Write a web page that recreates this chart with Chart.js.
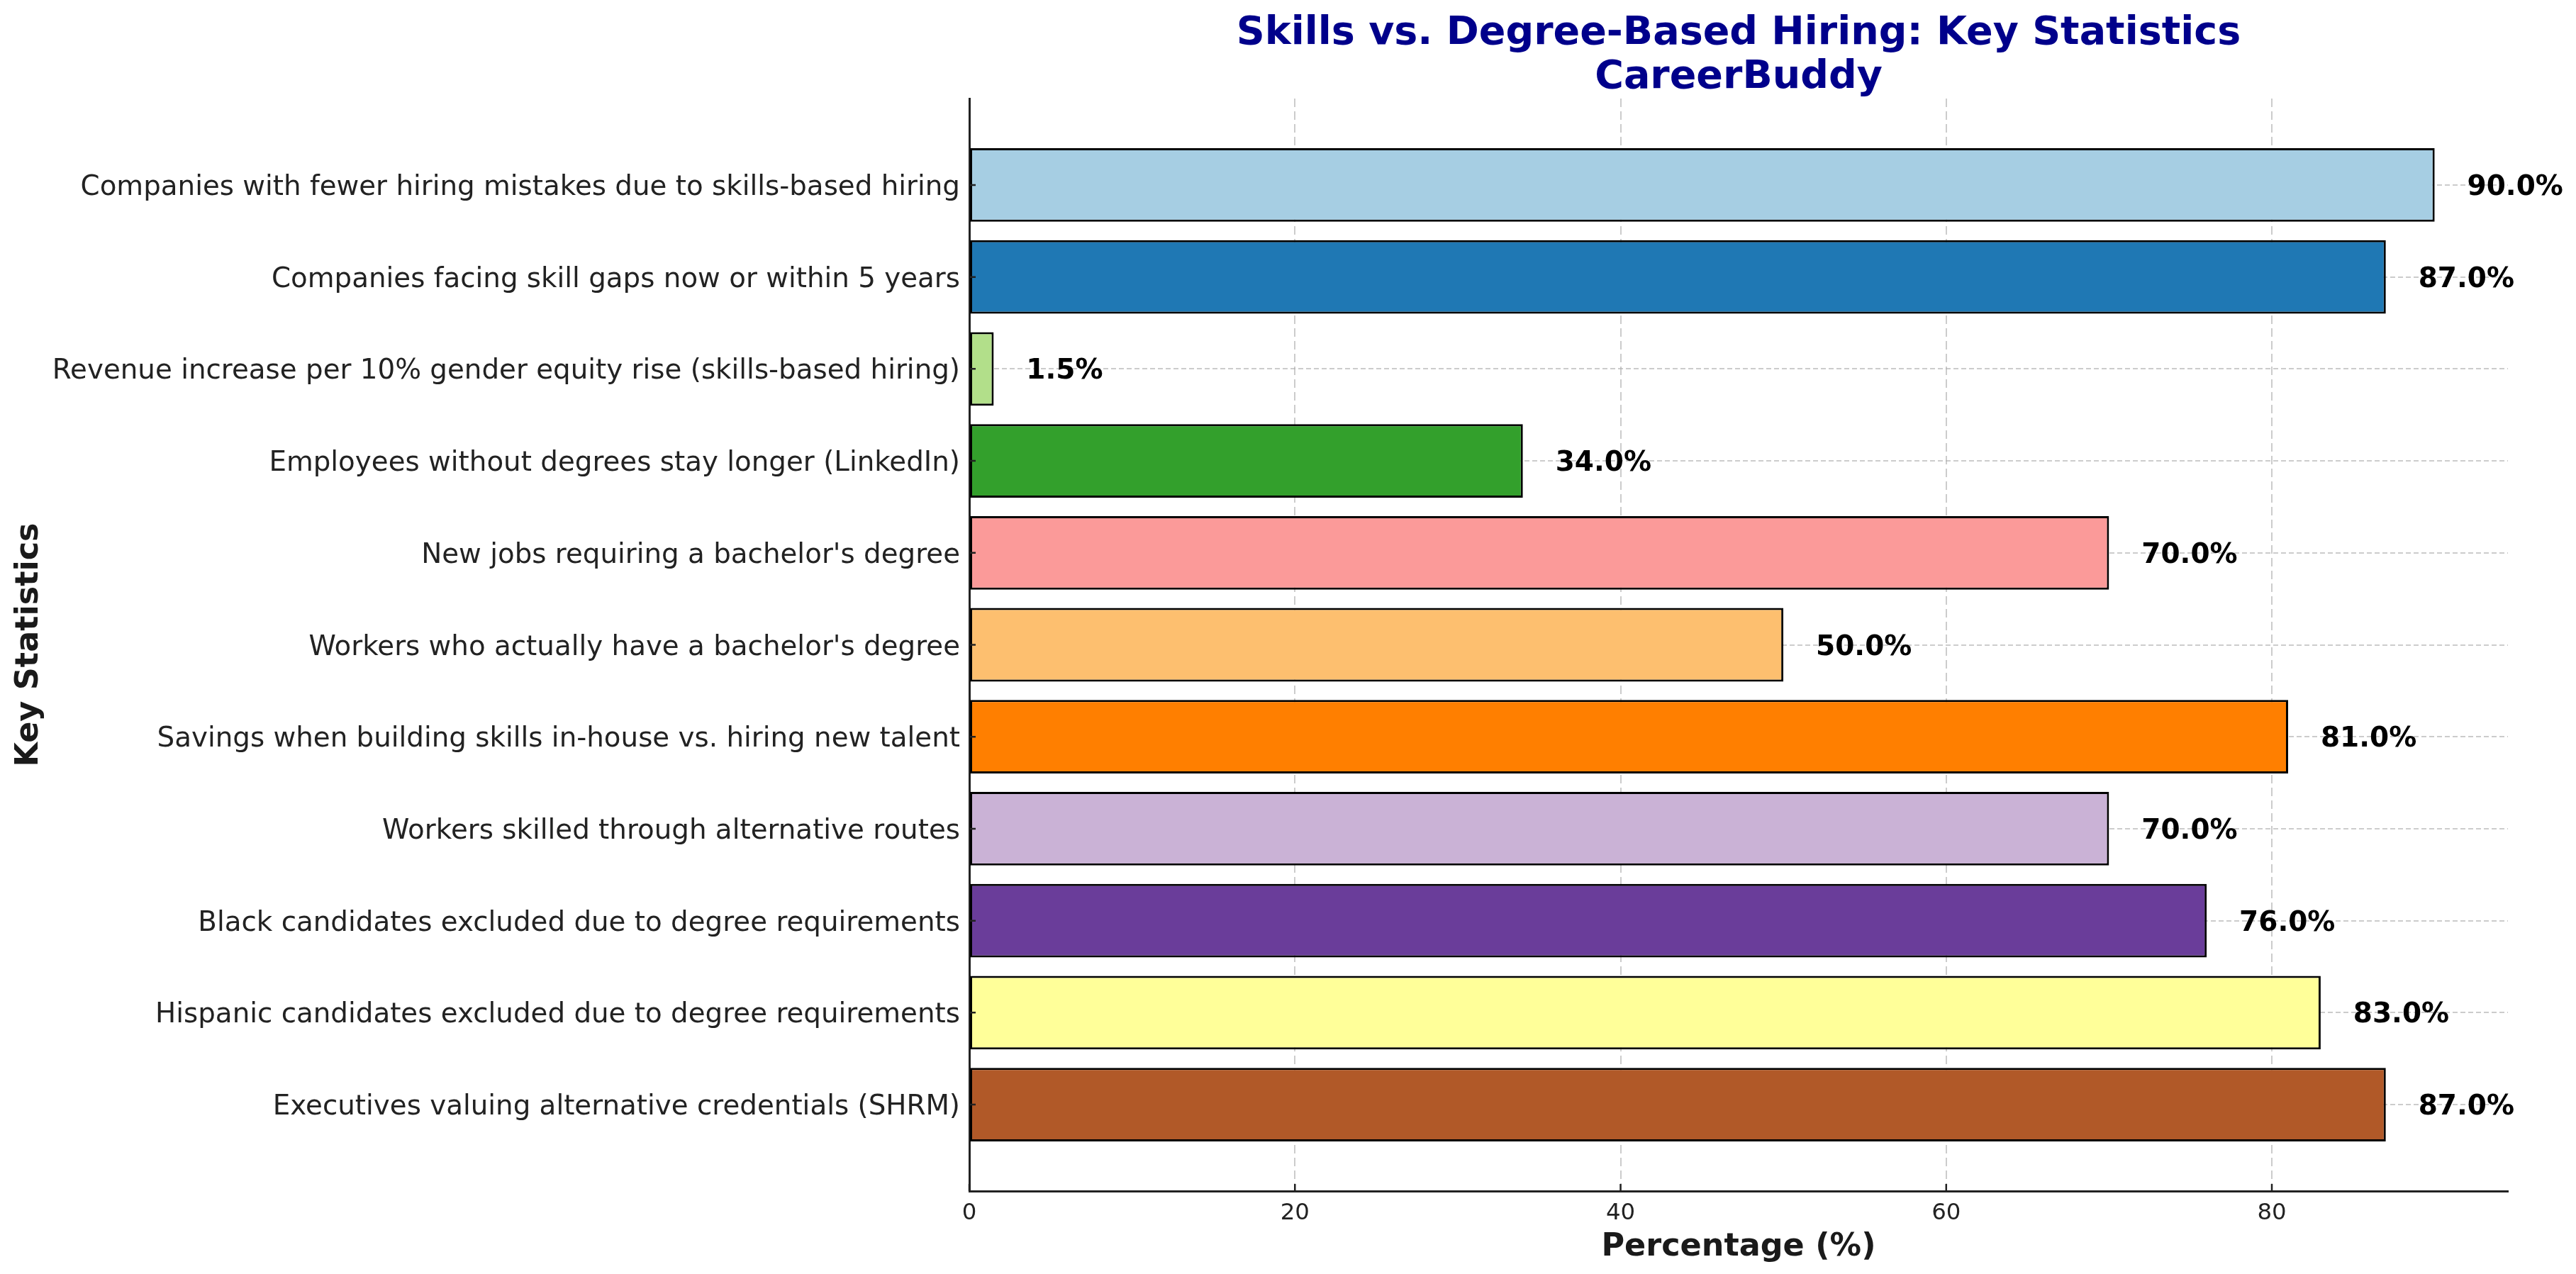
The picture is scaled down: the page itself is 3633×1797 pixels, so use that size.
<!DOCTYPE html>
<html>
<head>
<meta charset="utf-8">
<script src="https://cdn.jsdelivr.net/npm/chart.js@4.4.1/dist/chart.umd.min.js"></script>
<style>
  html, body { margin: 0; padding: 0; background: #fff; }
  canvas { display: block; }
</style>
</head>
<body>
<canvas id="skills_chart" width="3633" height="1797" style="width:3633px;height:1797px"></canvas>
<script>
// data, listed top to bottom as drawn
const STAT_LABELS = [
  "Companies with fewer hiring mistakes due to skills-based hiring",
  "Companies facing skill gaps now or within 5 years",
  "Revenue increase per 10% gender equity rise (skills-based hiring)",
  "Employees without degrees stay longer (LinkedIn)",
  "New jobs requiring a bachelor's degree",
  "Workers who actually have a bachelor's degree",
  "Savings when building skills in-house vs. hiring new talent",
  "Workers skilled through alternative routes",
  "Black candidates excluded due to degree requirements",
  "Hispanic candidates excluded due to degree requirements",
  "Executives valuing alternative credentials (SHRM)",
];
const STAT_VALUES = [90, 87, 1.5, 34, 70, 50, 81, 70, 76, 83, 87];
const BAR_COLORS = [
  "#a6cee3", "#1f78b4", "#b2df8a", "#33a02c", "#fb9a99", "#fdbf6f",
  "#ff7f00", "#cab2d6", "#6a3d9a", "#ffff99", "#b15928",
];
const X_TICKS = [0, 20, 40, 60, 80];
const TITLE_LINES = ["Skills vs. Degree-Based Hiring: Key Statistics", "CareerBuddy"];

const FONT = '"DejaVu Sans", sans-serif';
const GRID_COLOR = "rgba(176,176,176,0.65)";
const SPINE_COLOR = "#222";

// title over the plot area, value labels, inward tick marks
const annotatePlugin = {
  id: "annotate",
  afterDraw(chart) {
    const { ctx, chartArea, scales: { x, y } } = chart;
    ctx.save();

    ctx.fillStyle = "#00008B";
    ctx.font = `bold 55.5px ${FONT}`;
    ctx.textAlign = "center";
    ctx.textBaseline = "alphabetic";
    const cx = (chartArea.left + chartArea.right) / 2;
    TITLE_LINES.forEach((t, i) => ctx.fillText(t, cx, 62 + i * 62));

    ctx.fillStyle = "#000";
    ctx.font = `bold 39px ${FONT}`;
    ctx.textAlign = "left";
    ctx.textBaseline = "middle";
    STAT_VALUES.forEach((v, i) => {
      ctx.fillText(`${v.toFixed(1)}%`, x.getPixelForValue(v + 2), y.getPixelForValue(i) + 4);
    });

    ctx.strokeStyle = SPINE_COLOR;
    ctx.lineWidth = 2.5;
    ctx.beginPath();
    X_TICKS.forEach((t) => {
      const px = x.getPixelForValue(t);
      ctx.moveTo(px, chartArea.bottom);
      ctx.lineTo(px, chartArea.bottom - 10);
    });
    STAT_VALUES.forEach((_, i) => {
      const py = y.getPixelForValue(i);
      ctx.moveTo(chartArea.left, py);
      ctx.lineTo(chartArea.left + 9, py);
    });
    ctx.stroke();
    ctx.restore();
  },
};

new Chart(document.getElementById("skills_chart"), {
  type: "bar",
  data: {
    datasets: [{
      data: STAT_VALUES.map((v, i) => ({ x: v, y: i })),
      backgroundColor: BAR_COLORS,
      borderColor: "#000",
      borderWidth: 3,
      borderSkipped: false,
      categoryPercentage: 1,
      barPercentage: 0.8,
    }],
  },
  options: {
    indexAxis: "y",
    responsive: false,
    devicePixelRatio: 1,
    animation: false,
    layout: { padding: { top: 139, right: 96, bottom: 0, left: 0 } },
    plugins: {
      legend: { display: false },
      tooltip: { enabled: false },
      title: { display: false },
    },
    scales: {
      x: {
        type: "linear",
        min: 0,
        max: 94.5,
        z: 1,
        afterBuildTicks: (s) => { s.ticks = X_TICKS.map((v) => ({ value: v })); },
        afterFit: (s) => { s.height = 117; },
        grid: { color: GRID_COLOR, lineWidth: 2, drawTicks: false },
        border: { display: true, color: SPINE_COLOR, width: 3, dash: [12, 6] },
        ticks: { color: "#222", font: { family: FONT, size: 32.4 }, padding: 12, maxRotation: 0 },
        title: {
          display: true,
          text: "Percentage (%)",
          color: "#1a1a1a",
          font: { family: FONT, size: 44.5, weight: "bold" },
          padding: { top: 0, bottom: 11 },
        },
      },
      y: {
        type: "linear",
        min: -0.94,
        max: 10.94,
        reverse: true,
        offset: false,
        z: 1,
        afterBuildTicks: (s) => { s.ticks = STAT_LABELS.map((_, i) => ({ value: i })); },
        afterFit: (s) => { s.width = 1367; },
        grid: { offset: false, color: GRID_COLOR, lineWidth: 2, drawTicks: false },
        border: { display: true, color: SPINE_COLOR, width: 3, dash: [7, 4] },
        ticks: {
          color: "#222",
          font: { family: FONT, size: 38.8 },
          padding: 13,
          labelOffset: 4,
          autoSkip: false,
          callback: (v) => STAT_LABELS[v],
        },
        title: {
          display: true,
          text: "Key Statistics",
          color: "#1a1a1a",
          font: { family: FONT, size: 44.5, weight: "bold" },
          padding: { top: 15, bottom: 0 },
        },
      },
    },
  },
  plugins: [annotatePlugin],
});
</script>
</body>
</html>
